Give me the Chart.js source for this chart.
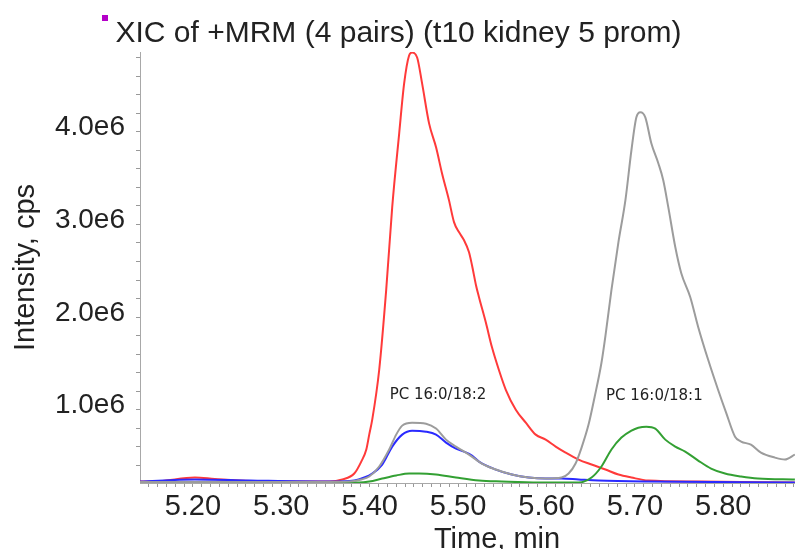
<!DOCTYPE html>
<html>
<head>
<meta charset="utf-8">
<script src="https://cdn.jsdelivr.net/npm/chart.js@4.4.1/dist/chart.umd.min.js"></script>
<style>
  html, body { margin: 0; padding: 0; background: #fff; }
  #wrap { width: 797px; height: 549px; position: relative; }
</style>
</head>
<body>
<div id="wrap"><canvas id="xicChart"></canvas></div>
<script>
// intensities are in units of 1e6 cps, time in min
const redTime = [5.1402, 5.1628, 5.2023, 5.2248, 5.2643, 5.3206, 5.3545, 5.3691, 5.3826, 5.3905, 5.3962, 5.3995, 5.4029, 5.4108, 5.4187, 5.4255, 5.4334, 5.4390, 5.4446, 5.4480, 5.4537, 5.4593, 5.4672, 5.4751, 5.4818, 5.4897, 5.4954, 5.5010, 5.5066, 5.5123, 5.5157, 5.5202, 5.5236, 5.5315, 5.5382, 5.5461, 5.5540, 5.5653, 5.5766, 5.5878, 5.5991, 5.6104, 5.6216, 5.6363, 5.6510, 5.6667, 5.6814, 5.6961, 5.7152, 5.7716, 5.8810];
const redIntensity = [0.226, 0.231, 0.269, 0.253, 0.231, 0.226, 0.226, 0.248, 0.312, 0.441, 0.571, 0.732, 0.893, 1.432, 2.293, 3.186, 3.983, 4.521, 4.822, 4.855, 4.801, 4.521, 4.090, 3.832, 3.552, 3.262, 3.025, 2.917, 2.831, 2.702, 2.562, 2.347, 2.217, 1.938, 1.679, 1.432, 1.216, 1.001, 0.861, 0.732, 0.678, 0.603, 0.538, 0.463, 0.409, 0.355, 0.301, 0.269, 0.237, 0.226, 0.215];

const grayTime = [5.1402, 5.3206, 5.3770, 5.3905, 5.3995, 5.4108, 5.4221, 5.4300, 5.4368, 5.4480, 5.4638, 5.4751, 5.4864, 5.4976, 5.5123, 5.5269, 5.5427, 5.5608, 5.5799, 5.5991, 5.6171, 5.6250, 5.6329, 5.6397, 5.6476, 5.6543, 5.6622, 5.6667, 5.6735, 5.6814, 5.6893, 5.6961, 5.7017, 5.7062, 5.7118, 5.7186, 5.7265, 5.7321, 5.7378, 5.7457, 5.7524, 5.7626, 5.7716, 5.7829, 5.7941, 5.8032, 5.8133, 5.8201, 5.8313, 5.8426, 5.8584, 5.8697, 5.8810];
const grayIntensity = [0.220, 0.220, 0.226, 0.248, 0.280, 0.388, 0.571, 0.732, 0.829, 0.861, 0.850, 0.797, 0.678, 0.603, 0.517, 0.420, 0.355, 0.301, 0.269, 0.258, 0.269, 0.312, 0.420, 0.592, 0.840, 1.130, 1.507, 1.798, 2.293, 2.809, 3.262, 3.800, 4.155, 4.209, 4.155, 3.875, 3.660, 3.477, 3.186, 2.756, 2.476, 2.217, 1.894, 1.539, 1.216, 0.969, 0.710, 0.657, 0.624, 0.538, 0.484, 0.463, 0.517];

const blueTime = [5.1402, 5.2023, 5.2643, 5.3545, 5.3826, 5.3939, 5.4029, 5.4142, 5.4255, 5.4368, 5.4480, 5.4638, 5.4751, 5.4864, 5.4976, 5.5066, 5.5157, 5.5236, 5.5427, 5.5608, 5.5799, 5.5991, 5.6171, 5.6363, 5.6588, 5.7152, 5.8810];
const blueIntensity = [0.226, 0.248, 0.237, 0.226, 0.237, 0.269, 0.312, 0.409, 0.603, 0.732, 0.775, 0.764, 0.732, 0.646, 0.581, 0.549, 0.506, 0.441, 0.355, 0.301, 0.269, 0.258, 0.258, 0.248, 0.237, 0.226, 0.215];

const greenTime = [5.1402, 5.3206, 5.3883, 5.3995, 5.4142, 5.4300, 5.4446, 5.4559, 5.4751, 5.4976, 5.5236, 5.5495, 5.5912, 5.6363, 5.6510, 5.6622, 5.6735, 5.6848, 5.6961, 5.7039, 5.7130, 5.7231, 5.7344, 5.7457, 5.7569, 5.7716, 5.7862, 5.8020, 5.8201, 5.8392, 5.8810];
const greenIntensity = [0.215, 0.215, 0.215, 0.226, 0.258, 0.291, 0.312, 0.312, 0.301, 0.269, 0.237, 0.226, 0.215, 0.215, 0.269, 0.388, 0.571, 0.700, 0.775, 0.807, 0.818, 0.797, 0.678, 0.603, 0.549, 0.452, 0.366, 0.312, 0.280, 0.258, 0.248];

const xLabelTicks = [5.20, 5.30, 5.40, 5.50, 5.60, 5.70, 5.80];
const yLabelTicks = [1, 2, 3, 4];

const peakNames = ['PC 16:0/18:2', 'PC 16:0/18:1'];
const peakNameTime = [5.4773, 5.7220];
const peakNameIntensity = [1.163, 1.152];

const toPoints = (t, v) => t.map((x, i) => ({ x: x, y: v[i] }));

const lineStyle = {
  pointRadius: 0,
  borderWidth: 2,
  fill: false,
  cubicInterpolationMode: 'monotone'
};

// extra text: magenta marker, x axis title, peak names
const extras = {
  id: 'extras',
  afterDraw(chart) {
    const ctx = chart.ctx;
    const xs = chart.scales.x, ys = chart.scales.y;
    ctx.save();
    ctx.fillStyle = '#b400c8';
    ctx.fillRect(102, 15, 6, 6);

    ctx.fillStyle = '#222';
    ctx.font = '29px "Liberation Sans", Arial, sans-serif';
    ctx.textAlign = 'center';
    ctx.textBaseline = 'alphabetic';
    ctx.fillText('Time, min', 497, 548);

    ctx.font = '15px "DejaVu Sans", Verdana, sans-serif';
    ctx.textBaseline = 'middle';
    peakNames.forEach((name, i) => {
      ctx.fillText(name, xs.getPixelForValue(peakNameTime[i]), ys.getPixelForValue(peakNameIntensity[i]));
    });
    ctx.restore();
  }
};

const ctx = document.getElementById('xicChart').getContext('2d');
new Chart(ctx, {
  type: 'line',
  data: {
    datasets: [
      Object.assign({ label: 'gray', data: toPoints(grayTime, grayIntensity), borderColor: '#9c9c9c' }, lineStyle),
      Object.assign({ label: 'green', data: toPoints(greenTime, greenIntensity), borderColor: '#33a033' }, lineStyle),
      Object.assign({ label: 'blue', data: toPoints(blueTime, blueIntensity), borderColor: '#2a2aff' }, lineStyle),
      Object.assign({ label: 'red', data: toPoints(redTime, redIntensity), borderColor: '#ff3a3a' }, lineStyle)
    ]
  },
  options: {
    responsive: true,
    maintainAspectRatio: false,
    animation: false,
    layout: { padding: 0 },
    plugins: {
      legend: { display: false },
      tooltip: { enabled: false },
      title: {
        display: true,
        text: 'XIC of +MRM (4 pairs) (t10 kidney 5 prom)',
        color: '#222',
        font: { family: '"Liberation Sans", Arial, sans-serif', size: 30, weight: 'normal' },
        padding: { top: 16, bottom: 0 }
      }
    },
    scales: {
      x: {
        type: 'linear',
        min: 5.1402,
        max: 5.8810,
        afterBuildTicks: axis => {
          const ticks = [];
          for (let k = 515; k <= 588; k++) ticks.push({ value: k / 100 });
          axis.ticks = ticks;
        },
        afterFit: axis => { axis.height = 66; },
        ticks: {
          autoSkip: false,
          maxRotation: 0,
          padding: 3,
          color: '#222',
          font: { family: '"Liberation Sans", Arial, sans-serif', size: 29 },
          callback: v => xLabelTicks.some(t => Math.abs(t - v) < 1e-6) ? v.toFixed(2) : ''
        },
        grid: { drawOnChartArea: false, tickLength: 4, color: '#999' },
        border: { display: true, color: '#a8a8a8' }
      },
      y: {
        type: 'linear',
        min: 0.21,
        max: 4.86,
        afterBuildTicks: axis => {
          const ticks = [];
          for (let k = 2; k <= 24; k++) ticks.push({ value: k / 5 });
          axis.ticks = ticks;
        },
        afterFit: axis => { axis.width = 140; },
        ticks: {
          autoSkip: false,
          padding: 11,
          labelOffset: -4,
          color: '#222',
          font: { family: '"Liberation Sans", Arial, sans-serif', size: 28 },
          callback: v => yLabelTicks.some(t => Math.abs(t - v) < 1e-6) ? v.toFixed(1) + 'e6' : ''
        },
        grid: { drawOnChartArea: false, tickLength: 4, color: '#999' },
        border: { display: true, color: '#a8a8a8' },
        title: {
          display: true,
          text: 'Intensity, cps',
          color: '#222',
          font: { family: '"Liberation Sans", Arial, sans-serif', size: 29 },
          padding: { top: 9, bottom: 0 }
        }
      }
    }
  },
  plugins: [extras]
});
</script>
</body>
</html>
